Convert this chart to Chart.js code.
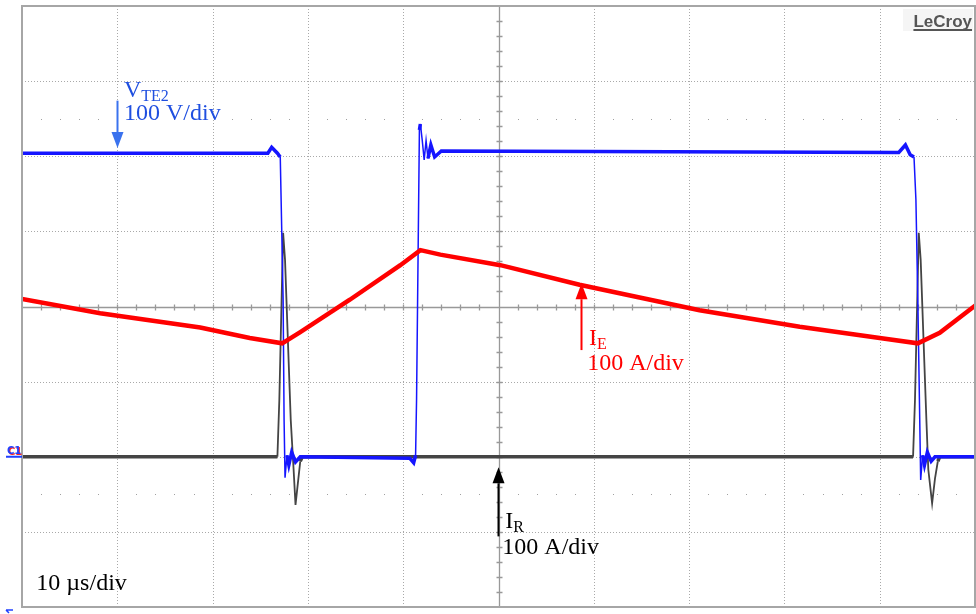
<!DOCTYPE html>
<html lang="en">
  <head>
    <meta charset="UTF-8" />
    <title>Scope capture - VTE2, IE, IR</title>
    <style>
      html, body { margin: 0; padding: 0; background: #fff; }
      .container--scope { width: 976px; height: 614px; position: relative; }
    </style>
  </head>
  <body>
    <main>
      <div class="container--scope">
        <canvas id="myChart"></canvas>
      </div>
    </main>
    <script src="https://cdn.jsdelivr.net/npm/chart.js@4.4.0/dist/chart.umd.min.js"></script>
    <script>
      // all values in screen divisions: x 0..10 (10 us/div), y -4..4
      const vteTime  = [0, 2.58, 2.62, 2.68, 2.71, 2.74, 2.75, 2.76, 2.78, 2.80, 2.83, 2.87, 2.92, 4.07, 4.11, 4.13, 4.14, 4.17, 4.18, 4.20, 4.22, 4.24, 4.26, 4.29, 4.33, 4.40, 9.20, 9.27, 9.32, 9.36, 9.38, 9.40, 9.42, 9.43, 9.45, 9.47, 9.50, 9.54, 9.58, 10.01];
      const vteLevel = [2.04, 2.04, 2.12, 2.04, 1.99, 0.09, -1.5, -2.28, -1.98, -2.11, -1.94, -2.07, -2.0, -2.02, -2.08, -1.98, -1.25, 2.35, 2.43, 2.21, 1.95, 2.21, 1.97, 2.15, 1.99, 2.07, 2.05, 2.15, 2.02, 1.99, 1.42, 0.09, -1.5, -2.31, -1.98, -2.11, -1.94, -2.06, -2.0, -2.0];

      const ieTime  = [0, 0.82, 1.87, 2.39, 2.73, 2.92, 3.44, 3.97, 4.18, 4.39, 5.02, 5.85, 7.11, 8.16, 9.00, 9.40, 9.63, 10.01];
      const ieLevel = [0.10, -0.09, -0.28, -0.42, -0.49, -0.34, 0.09, 0.55, 0.75, 0.69, 0.55, 0.29, -0.05, -0.27, -0.42, -0.49, -0.35, 0.02];

      const irTime  = [0, 2.68, 2.70, 2.74, 2.76, 2.79, 2.82, 2.85, 2.87, 2.90, 2.92, 2.94, 9.35, 9.37, 9.41, 9.43, 9.46, 9.49, 9.51, 9.55, 9.58, 9.61, 9.63, 10.01];
      const irLevel = [-2.0, -2.0, -1.25, 0.98, 0.62, -0.45, -1.51, -2.17, -2.64, -2.29, -2.06, -2.0, -2.0, -1.25, 0.98, 0.62, -0.45, -1.51, -2.17, -2.62, -2.29, -2.06, -2.0, -2.0];

      const toPoints = (xs, ys) => xs.map((x, i) => ({ x: x, y: ys[i] }));

      // thin line on the fast edges, wide band where the trace is noisy
      const edgeWidth = (wide, thin) => (ctx) => {
        const dx = Math.abs(ctx.p1.x - ctx.p0.x);
        const dy = Math.abs(ctx.p1.y - ctx.p0.y);
        return dy > 15 && dy > 3 * dx ? thin : wide;
      };

      const labels = [
        { color: '#1f4fe0', arrow: '#3a72ee', ax: 1.0, tail: 2.74, tip: 2.11,
          x: 1.07, name: 'V', sub: 'TE2', nameY: 2.79, scale: '100 V/div', scaleX: 1.07, scaleY: 2.48 },
        { color: '#ff0000', arrow: '#ff0000', ax: 5.87, tail: -0.58, tip: 0.31,
          x: 5.95, name: 'I', sub: 'E', nameY: -0.51, scale: '100 A/div', scaleX: 5.93, scaleY: -0.85 },
        { color: '#000000', arrow: '#000000', ax: 4.99, tail: -3.06, tip: -2.14,
          x: 5.07, name: 'I', sub: 'R', nameY: -2.95, scale: '100 A/div', scaleX: 5.04, scaleY: -3.30 },
      ];

      const scopeScreen = {
        id: 'scopeScreen',
        beforeDatasetsDraw(chart) {
          const { ctx, chartArea: a, scales: { x, y } } = chart;
          ctx.save();
          // dotted division grid
          ctx.strokeStyle = '#a9a9a9';
          ctx.lineWidth = 1;
          ctx.setLineDash([1, 2]);
          for (let i = 1; i < 10; i++) {
            if (i === 5) continue;
            const px = Math.round(x.getPixelForValue(i)) + 0.5;
            ctx.beginPath(); ctx.moveTo(px, a.top); ctx.lineTo(px, a.bottom); ctx.stroke();
          }
          for (let j = -3; j <= 3; j++) {
            if (j === 0) continue;
            const py = Math.round(y.getPixelForValue(j)) + 0.5;
            ctx.beginPath(); ctx.moveTo(a.left, py); ctx.lineTo(a.right, py); ctx.stroke();
          }
          ctx.setLineDash([]);
          // sparse dot rows
          ctx.fillStyle = '#a0a0a0';
          [2.5, -2.5].forEach((r) => {
            const py = Math.round(y.getPixelForValue(r));
            for (let k = 1; k < 50; k++) {
              if (k % 5 === 0) continue;
              ctx.fillRect(Math.round(x.getPixelForValue(k * 0.2)), py, 1, 1);
            }
          });
          // centre cross with minor ticks
          const cx = Math.round(x.getPixelForValue(5)) + 0.5;
          const cy = Math.round(y.getPixelForValue(0)) + 0.5;
          ctx.strokeStyle = '#999';
          ctx.lineWidth = 1.3;
          ctx.beginPath();
          ctx.moveTo(a.left, cy); ctx.lineTo(a.right, cy);
          ctx.moveTo(cx, a.top); ctx.lineTo(cx, a.bottom);
          for (let k = 1; k < 50; k++) {
            const px = Math.round(x.getPixelForValue(k * 0.2)) + 0.5;
            ctx.moveTo(px, cy - 3); ctx.lineTo(px, cy + 3);
          }
          for (let k = -19; k < 20; k++) {
            const py = Math.round(y.getPixelForValue(k * 0.2)) + 0.5;
            ctx.moveTo(cx - 3, py); ctx.lineTo(cx + 3, py);
          }
          ctx.stroke();
          ctx.restore();
        },
        afterDraw(chart) {
          const { ctx, chartArea: a, scales: { x, y } } = chart;
          ctx.save();
          // frame
          ctx.strokeStyle = '#a6a6a6';
          ctx.lineWidth = 2;
          ctx.strokeRect(a.left, a.top, a.right - a.left, a.bottom - a.top);

          // arrows and channel labels
          labels.forEach((l) => {
            const ax = Math.round(x.getPixelForValue(l.ax)) + 0.5;
            const tail = y.getPixelForValue(l.tail);
            const tip = y.getPixelForValue(l.tip);
            const dir = tip > tail ? 1 : -1;
            const base = tip - dir * 16;
            ctx.strokeStyle = l.arrow;
            ctx.fillStyle = l.arrow;
            ctx.lineWidth = 2;
            ctx.beginPath(); ctx.moveTo(ax, tail); ctx.lineTo(ax, base); ctx.stroke();
            ctx.beginPath();
            ctx.moveTo(ax, tip); ctx.lineTo(ax - 6, base); ctx.lineTo(ax + 6, base);
            ctx.closePath(); ctx.fill();

            ctx.fillStyle = l.color;
            ctx.textAlign = 'left';
            ctx.textBaseline = 'alphabetic';
            ctx.font = '24px "Liberation Serif", "Times New Roman", serif';
            const nx = x.getPixelForValue(l.x);
            const ny = y.getPixelForValue(l.nameY);
            ctx.fillText(l.name, nx, ny);
            const w = ctx.measureText(l.name).width;
            ctx.fillText(l.scale, x.getPixelForValue(l.scaleX), y.getPixelForValue(l.scaleY));
            ctx.font = '16px "Liberation Serif", "Times New Roman", serif';
            ctx.fillText(l.sub, nx + w, ny + 4);
          });

          // timebase
          ctx.fillStyle = '#000';
          ctx.font = '24px "Liberation Serif", "Times New Roman", serif';
          ctx.fillText('10 \u00b5s/div', x.getPixelForValue(0.15), y.getPixelForValue(-3.77));

          // brand badge
          ctx.fillStyle = '#f5f5f5';
          ctx.fillRect(a.right - 72, a.top + 3, 70, 22);
          ctx.fillStyle = '#555';
          ctx.font = 'bold 17px "Liberation Sans", Arial, sans-serif';
          ctx.textAlign = 'right';
          ctx.fillText('LeCroy', a.right - 3, a.top + 21);
          const bw = ctx.measureText('LeCroy').width;
          ctx.fillRect(a.right - 3 - bw, a.top + 23, bw, 2);

          // channel 1 ground marker
          const gy = y.getPixelForValue(-2.0);
          ctx.textAlign = 'left';
          ctx.font = 'bold 10px "DejaVu Sans", sans-serif';
          ctx.fillStyle = '#ff2020';
          ctx.fillText('C1', 8, gy - 2);
          ctx.fillStyle = '#2040ff';
          ctx.fillText('C1', 7, gy - 3);
          ctx.fillRect(6, gy - 1, a.left - 6, 2);
          // trigger marker
          ctx.strokeStyle = '#2040ff';
          ctx.lineWidth = 1.5;
          ctx.beginPath();
          ctx.moveTo(6, a.bottom + 3); ctx.lineTo(13, a.bottom + 3);
          ctx.moveTo(6, a.bottom + 3); ctx.lineTo(9, a.bottom + 6);
          ctx.stroke();
          ctx.restore();
        },
      };

      const data = {
        datasets: [
          {
            label: 'IE',
            data: toPoints(ieTime, ieLevel),
            borderColor: '#ff0000',
            borderWidth: 4.5,
            segment: { borderWidth: edgeWidth(4.5, 1.5) },
          },
          {
            label: 'VTE2',
            data: toPoints(vteTime, vteLevel),
            borderColor: '#1515ff',
            borderWidth: 3.5,
            segment: { borderWidth: edgeWidth(3.5, 1.5) },
          },
          {
            label: 'IR',
            data: toPoints(irTime, irLevel),
            borderColor: '#444444',
            borderWidth: 3.5,
            segment: { borderWidth: edgeWidth(3.5, 1.8) },
          },
        ],
      };

      const config = {
        type: 'scatter',
        data: data,
        options: {
          animation: false,
          responsive: true,
          maintainAspectRatio: false,
          showLine: true,
          elements: { point: { radius: 0 }, line: { tension: 0, borderJoinStyle: 'miter' } },
          layout: { padding: { left: 22, top: 6, right: 1, bottom: 7 } },
          scales: {
            x: { type: 'linear', min: 0, max: 10, display: false },
            y: { type: 'linear', min: -4, max: 4, display: false },
          },
          plugins: {
            legend: { display: false },
            tooltip: { enabled: false },
          },
        },
        plugins: [scopeScreen],
      };

      const myChart = new Chart(document.getElementById('myChart'), config);
    </script>
  </body>
</html>
